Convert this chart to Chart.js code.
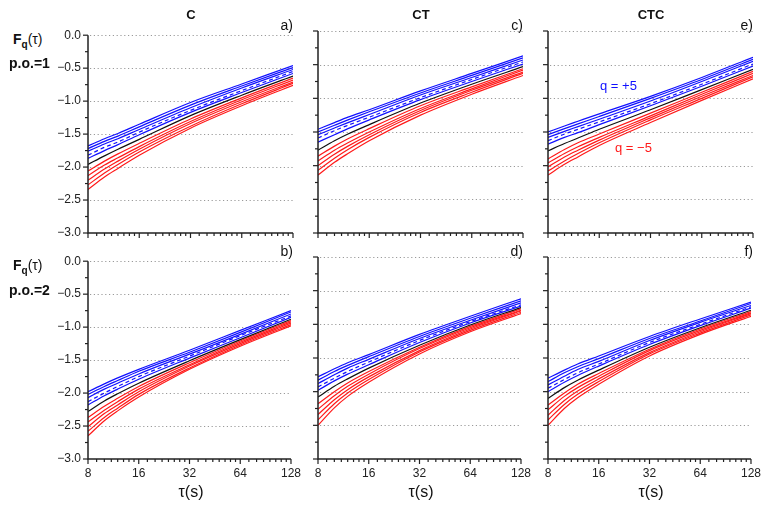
<!DOCTYPE html>
<html>
<head>
<meta charset="utf-8">
<script src="https://cdn.jsdelivr.net/npm/chart.js@4.4.1/dist/chart.umd.min.js"></script>
<style>
  body { margin: 0; background: #fff; width: 777px; height: 508px; position: relative; overflow: hidden;
         font-family: "Liberation Sans", Arial, sans-serif; color: #111; }
  canvas { position: absolute; }
  .t { position: absolute; white-space: nowrap; line-height: 1; }
  .title { font-weight: bold; font-size: 13px; transform: translate(-50%, -50%); }
  .letter { font-size: 14px; transform: translate(-100%, -50%); }
  .rowlab { font-weight: bold; font-size: 14px; transform: translateY(-50%); }
  .xtitle { font-size: 16px; transform: translate(-50%, -50%); }
  .qlab { font-size: 13px; transform: translateY(-50%); }
</style>
</head>
<body>
<canvas id="pa" width="260" height="240" style="left:48px;top:21px"></canvas>
<canvas id="pc" width="260" height="240" style="left:278px;top:21px"></canvas>
<canvas id="pe" width="260" height="240" style="left:508px;top:21px"></canvas>
<canvas id="pb" width="260" height="240" style="left:48px;top:247px"></canvas>
<canvas id="pd" width="260" height="240" style="left:278px;top:247px"></canvas>
<canvas id="pf" width="260" height="240" style="left:508px;top:247px"></canvas>

<div class="t title" style="left:191px;top:14px">C</div>
<div class="t title" style="left:421px;top:14px">CT</div>
<div class="t title" style="left:651px;top:14px">CTC</div>

<div class="t letter" style="left:293px;top:25px">a)</div>
<div class="t letter" style="left:523px;top:25px">c)</div>
<div class="t letter" style="left:753px;top:25px">e)</div>
<div class="t letter" style="left:293px;top:251px">b)</div>
<div class="t letter" style="left:523px;top:251px">d)</div>
<div class="t letter" style="left:753px;top:251px">f)</div>

<div class="t rowlab" style="left:13px;top:41px">F<sub style="font-size:10px">q</sub><span style="font-weight:normal">(τ)</span></div>
<div class="t rowlab" style="left:9px;top:63px">p.o.=1</div>
<div class="t rowlab" style="left:13px;top:267px">F<sub style="font-size:10px">q</sub><span style="font-weight:normal">(τ)</span></div>
<div class="t rowlab" style="left:9px;top:290px">p.o.=2</div>

<div class="t xtitle" style="left:191px;top:492px">τ(s)</div>
<div class="t xtitle" style="left:421px;top:492px">τ(s)</div>
<div class="t xtitle" style="left:651px;top:492px">τ(s)</div>

<div class="t qlab" style="left:600px;top:85px;color:#1010ff">q = +5</div>
<div class="t qlab" style="left:615px;top:147px;color:#ff1a1a">q = −5</div>

<script>
// scale points (s) and the q order of the curves (top to bottom)
const tau = [8, 10, 12, 16, 32, 64, 128];
const qValues = [5, 4, 3, 2, 1, 0, -1, -2, -3, -4, -5];

const xTicks = [8, 9, 10, 11, 12, 13, 14, 15, 16, 18, 20, 22, 24, 26, 28, 30, 32,
  36, 40, 44, 48, 52, 56, 60, 64, 72, 80, 88, 96, 104, 112, 120, 128];
const xLabels = [8, 16, 32, 64, 128];
const yTicks = [0, -0.25, -0.5, -0.75, -1, -1.25, -1.5, -1.75, -2, -2.25, -2.5, -2.75, -3];

// F_q(tau), one row per q, p.o.=1
const C_po1 = [
  [-1.68, -1.57, -1.49, -1.35, -1.02, -0.74, -0.46],
  [-1.72, -1.61, -1.53, -1.39, -1.06, -0.77, -0.49],
  [-1.76, -1.65, -1.57, -1.43, -1.10, -0.80, -0.52],
  [-1.82, -1.70, -1.62, -1.47, -1.14, -0.84, -0.55],
  [-1.87, -1.75, -1.66, -1.51, -1.17, -0.87, -0.58],
  [-1.96, -1.83, -1.73, -1.58, -1.22, -0.91, -0.62],
  [-2.06, -1.91, -1.80, -1.64, -1.27, -0.95, -0.65],
  [-2.13, -1.97, -1.86, -1.69, -1.31, -0.98, -0.68],
  [-2.20, -2.03, -1.91, -1.73, -1.34, -1.01, -0.71],
  [-2.27, -2.09, -1.96, -1.77, -1.38, -1.04, -0.73],
  [-2.34, -2.15, -2.02, -1.82, -1.41, -1.07, -0.76]
];
const CT_po1 = [
  [-1.46, -1.36, -1.28, -1.17, -0.89, -0.63, -0.37],
  [-1.50, -1.40, -1.32, -1.20, -0.92, -0.66, -0.40],
  [-1.54, -1.44, -1.36, -1.24, -0.95, -0.69, -0.43],
  [-1.59, -1.48, -1.40, -1.28, -0.99, -0.72, -0.46],
  [-1.65, -1.54, -1.45, -1.32, -1.02, -0.75, -0.49],
  [-1.77, -1.63, -1.53, -1.39, -1.07, -0.79, -0.53],
  [-1.86, -1.71, -1.60, -1.45, -1.11, -0.83, -0.56],
  [-1.93, -1.77, -1.66, -1.50, -1.15, -0.86, -0.58],
  [-2.00, -1.83, -1.71, -1.54, -1.18, -0.88, -0.61],
  [-2.07, -1.89, -1.76, -1.58, -1.21, -0.91, -0.63],
  [-2.14, -1.95, -1.82, -1.63, -1.25, -0.94, -0.66]
];
const CTC_po1 = [
  [-1.50, -1.41, -1.34, -1.23, -0.97, -0.69, -0.39],
  [-1.54, -1.45, -1.38, -1.27, -1.00, -0.72, -0.42],
  [-1.58, -1.49, -1.42, -1.31, -1.04, -0.75, -0.45],
  [-1.63, -1.53, -1.46, -1.35, -1.08, -0.79, -0.49],
  [-1.68, -1.58, -1.51, -1.39, -1.11, -0.82, -0.52],
  [-1.78, -1.67, -1.59, -1.46, -1.17, -0.87, -0.57],
  [-1.90, -1.76, -1.66, -1.53, -1.22, -0.91, -0.60],
  [-1.96, -1.82, -1.72, -1.58, -1.26, -0.94, -0.63],
  [-2.02, -1.87, -1.77, -1.62, -1.29, -0.97, -0.66],
  [-2.08, -1.93, -1.82, -1.66, -1.32, -1.00, -0.68],
  [-2.14, -1.98, -1.87, -1.70, -1.36, -1.03, -0.71]
];
// p.o.=2
const C_po2 = [
  [-1.98, -1.86, -1.77, -1.64, -1.35, -1.05, -0.75],
  [-2.02, -1.90, -1.81, -1.67, -1.38, -1.08, -0.77],
  [-2.07, -1.94, -1.85, -1.71, -1.41, -1.11, -0.80],
  [-2.13, -2.00, -1.90, -1.75, -1.44, -1.13, -0.83],
  [-2.18, -2.04, -1.94, -1.79, -1.47, -1.16, -0.85],
  [-2.28, -2.12, -2.01, -1.85, -1.51, -1.19, -0.88],
  [-2.37, -2.20, -2.08, -1.90, -1.54, -1.21, -0.90],
  [-2.44, -2.26, -2.13, -1.94, -1.57, -1.23, -0.92],
  [-2.51, -2.31, -2.18, -1.98, -1.59, -1.25, -0.94],
  [-2.58, -2.37, -2.23, -2.02, -1.62, -1.27, -0.96],
  [-2.65, -2.42, -2.27, -2.06, -1.64, -1.29, -0.98]
];
const CT_po2 = [
  [-1.78, -1.66, -1.57, -1.45, -1.15, -0.88, -0.62],
  [-1.83, -1.70, -1.61, -1.48, -1.18, -0.91, -0.65],
  [-1.88, -1.75, -1.65, -1.52, -1.21, -0.94, -0.68],
  [-1.93, -1.80, -1.70, -1.56, -1.24, -0.96, -0.71],
  [-1.98, -1.84, -1.74, -1.60, -1.27, -0.98, -0.73],
  [-2.08, -1.92, -1.81, -1.65, -1.31, -1.01, -0.75],
  [-2.18, -2.00, -1.87, -1.70, -1.34, -1.03, -0.77],
  [-2.26, -2.06, -1.92, -1.74, -1.36, -1.05, -0.79],
  [-2.34, -2.12, -1.97, -1.78, -1.39, -1.07, -0.80],
  [-2.42, -2.18, -2.02, -1.82, -1.41, -1.09, -0.82],
  [-2.50, -2.24, -2.07, -1.86, -1.44, -1.11, -0.84]
];
const CTC_po2 = [
  [-1.80, -1.68, -1.59, -1.47, -1.18, -0.92, -0.67],
  [-1.85, -1.72, -1.63, -1.51, -1.21, -0.95, -0.69],
  [-1.90, -1.77, -1.67, -1.55, -1.24, -0.97, -0.72],
  [-1.95, -1.82, -1.72, -1.59, -1.27, -1.00, -0.74],
  [-2.00, -1.86, -1.76, -1.62, -1.30, -1.02, -0.76],
  [-2.10, -1.94, -1.83, -1.68, -1.34, -1.05, -0.79],
  [-2.20, -2.02, -1.89, -1.73, -1.37, -1.07, -0.81],
  [-2.27, -2.07, -1.94, -1.77, -1.39, -1.09, -0.83],
  [-2.35, -2.13, -1.99, -1.81, -1.42, -1.11, -0.84],
  [-2.42, -2.19, -2.04, -1.85, -1.44, -1.13, -0.86],
  [-2.50, -2.25, -2.09, -1.89, -1.47, -1.15, -0.88]
];

const FONT = '"Liberation Sans", Arial, sans-serif';

function fmtY(v) {
  let s = Math.abs(v).toFixed(1);
  return v < 0 ? '\u2212' + s : s;
}

// dotted grid, axis lines and tick marks
const axesPlugin = {
  id: 'axes',
  beforeDatasetsDraw(chart) {
    const ctx = chart.ctx, a = chart.chartArea, ys = chart.scales.y;
    ctx.save();
    ctx.strokeStyle = '#9a9a9a';
    ctx.lineWidth = 1;
    ctx.setLineDash([1.2, 2.6]);
    yTicks.forEach(v => {
      if (v % 0.5 !== 0 || v <= -3) return;
      const y = Math.round(ys.getPixelForValue(v)) + 0.5;
      ctx.beginPath();
      ctx.moveTo(a.left + 2, y);
      ctx.lineTo(a.right, y);
      ctx.stroke();
    });
    ctx.restore();
  },
  afterDatasetsDraw(chart) {
    const ctx = chart.ctx, a = chart.chartArea, xs = chart.scales.x, ys = chart.scales.y;
    ctx.save();
    ctx.strokeStyle = '#222';
    ctx.lineWidth = 1.5;
    ctx.beginPath();
    ctx.moveTo(a.left, a.top);
    ctx.lineTo(a.left, a.bottom);
    ctx.lineTo(a.right, a.bottom);
    ctx.stroke();
    ctx.lineWidth = 1.2;
    yTicks.forEach(v => {
      const y = ys.getPixelForValue(v);
      const len = v % 0.5 === 0 ? 5 : 3;
      ctx.beginPath();
      ctx.moveTo(a.left, y);
      ctx.lineTo(a.left - len, y);
      ctx.stroke();
    });
    xTicks.forEach(v => {
      const x = xs.getPixelForValue(v);
      const len = xLabels.includes(v) ? 5 : 3;
      ctx.beginPath();
      ctx.moveTo(x, a.bottom);
      ctx.lineTo(x, a.bottom + len);
      ctx.stroke();
    });
    ctx.restore();
  }
};

function makePanel(id, rows, showX, showY) {
  const datasets = rows.map((vals, i) => {
    const q = qValues[i];
    const color = q > 0 ? '#1010ff' : (q === 0 ? '#111111' : '#ff1a1a');
    return {
      label: 'q = ' + q,
      data: tau.map((t, k) => ({ x: t, y: vals[k] })),
      borderColor: color,
      borderWidth: 1.2,
      borderDash: q === 2 ? [4, 3] : [],
      pointRadius: 0,
      cubicInterpolationMode: 'monotone',
      fill: false
    };
  });
  new Chart(document.getElementById(id), {
    type: 'line',
    data: { datasets: datasets },
    options: {
      responsive: false,
      animation: false,
      layout: { padding: { top: 10, right: 15, left: 0, bottom: 0 } },
      plugins: { legend: { display: false }, tooltip: { enabled: false } },
      scales: {
        x: {
          type: 'logarithmic', min: 8, max: 128,
          grid: { display: false, drawTicks: false },
          border: { display: false },
          afterBuildTicks: s => { s.ticks = xTicks.map(v => ({ value: v })); },
          afterFit: s => { s.height = 28; },
          ticks: {
            display: showX, autoSkip: false, maxRotation: 0, padding: 7, color: '#222',
            font: { size: 12, family: FONT },
            callback: v => xLabels.includes(v) ? String(v) : ''
          }
        },
        y: {
          type: 'linear', min: -3, max: 0,
          grid: { display: false, drawTicks: false },
          border: { display: false },
          afterBuildTicks: s => { s.ticks = yTicks.map(v => ({ value: v })); },
          afterFit: s => { s.width = 40; },
          ticks: {
            display: showY, autoSkip: false, padding: 7, color: '#222',
            font: { size: 12, family: FONT },
            callback: v => v % 0.5 === 0 ? fmtY(v) : ''
          }
        }
      }
    },
    plugins: [axesPlugin]
  });
}

makePanel('pa', C_po1, false, true);
makePanel('pc', CT_po1, false, false);
makePanel('pe', CTC_po1, false, false);
makePanel('pb', C_po2, true, true);
makePanel('pd', CT_po2, true, false);
makePanel('pf', CTC_po2, true, false);
</script>
</body>
</html>
